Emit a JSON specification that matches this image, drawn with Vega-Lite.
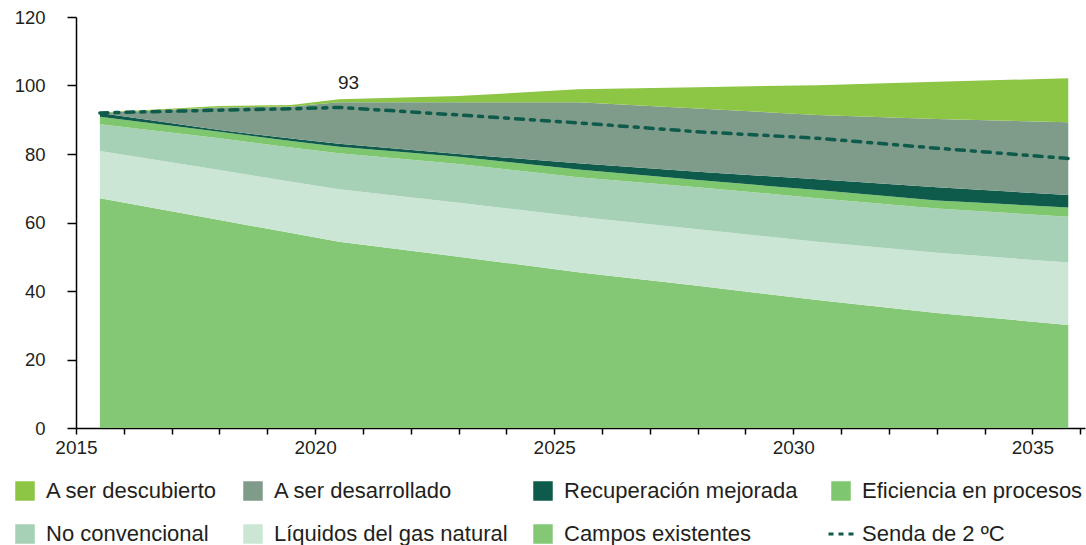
{
  "$schema": "https://vega.github.io/schema/vega-lite/v6.json",
  "autosize": {"type": "none"},
  "width": 1009,
  "height": 411,
  "padding": {"left": 76, "top": 17, "right": 1, "bottom": 117},
  "background": "white",
  "config": {
    "view": {"stroke": null},
    "font": "Liberation Sans",
    "axis": {"labelFont": "Liberation Sans", "labelColor": "#231f20", "domainColor": "#000000", "tickColor": "#000000", "domainWidth": 1.5, "tickWidth": 1.5, "grid": false, "title": null}
  },
  "datasets": {
    "areas": [
      {"anio": 2015.5, "serie": "Campos existentes", "o": 1, "valor": 67.1},
      {"anio": 2015.5, "serie": "Líquidos del gas natural", "o": 2, "valor": 13.8},
      {"anio": 2015.5, "serie": "No convencional", "o": 3, "valor": 7.8},
      {"anio": 2015.5, "serie": "Eficiencia en procesos", "o": 4, "valor": 2.2},
      {"anio": 2015.5, "serie": "Recuperación mejorada", "o": 5, "valor": 1.1},
      {"anio": 2015.5, "serie": "A ser desarrollado", "o": 6, "valor": 0.0},
      {"anio": 2015.5, "serie": "A ser descubierto", "o": 7, "valor": 0.1},
      {"anio": 2018, "serie": "Campos existentes", "o": 1, "valor": 60.7},
      {"anio": 2018, "serie": "Líquidos del gas natural", "o": 2, "valor": 14.6},
      {"anio": 2018, "serie": "No convencional", "o": 3, "valor": 9.3},
      {"anio": 2018, "serie": "Eficiencia en procesos", "o": 4, "valor": 1.9},
      {"anio": 2018, "serie": "Recuperación mejorada", "o": 5, "valor": 0.5},
      {"anio": 2018, "serie": "A ser desarrollado", "o": 6, "valor": 6.6},
      {"anio": 2018, "serie": "A ser descubierto", "o": 7, "valor": 0.4},
      {"anio": 2019.5, "serie": "Campos existentes", "o": 1, "valor": 56.9},
      {"anio": 2019.5, "serie": "Líquidos del gas natural", "o": 2, "valor": 15.0},
      {"anio": 2019.5, "serie": "No convencional", "o": 3, "valor": 10.0},
      {"anio": 2019.5, "serie": "Eficiencia en procesos", "o": 4, "valor": 1.9},
      {"anio": 2019.5, "serie": "Recuperación mejorada", "o": 5, "valor": 0.7},
      {"anio": 2019.5, "serie": "A ser desarrollado", "o": 6, "valor": 9.4},
      {"anio": 2019.5, "serie": "A ser descubierto", "o": 7, "valor": 0.4},
      {"anio": 2020.5, "serie": "Campos existentes", "o": 1, "valor": 54.4},
      {"anio": 2020.5, "serie": "Líquidos del gas natural", "o": 2, "valor": 15.3},
      {"anio": 2020.5, "serie": "No convencional", "o": 3, "valor": 10.5},
      {"anio": 2020.5, "serie": "Eficiencia en procesos", "o": 4, "valor": 1.9},
      {"anio": 2020.5, "serie": "Recuperación mejorada", "o": 5, "valor": 0.9},
      {"anio": 2020.5, "serie": "A ser desarrollado", "o": 6, "valor": 12.1},
      {"anio": 2020.5, "serie": "A ser descubierto", "o": 7, "valor": 0.9},
      {"anio": 2023, "serie": "Campos existentes", "o": 1, "valor": 50.0},
      {"anio": 2023, "serie": "Líquidos del gas natural", "o": 2, "valor": 15.8},
      {"anio": 2023, "serie": "No convencional", "o": 3, "valor": 11.3},
      {"anio": 2023, "serie": "Eficiencia en procesos", "o": 4, "valor": 2.1},
      {"anio": 2023, "serie": "Recuperación mejorada", "o": 5, "valor": 0.8},
      {"anio": 2023, "serie": "A ser desarrollado", "o": 6, "valor": 15.1},
      {"anio": 2023, "serie": "A ser descubierto", "o": 7, "valor": 1.8},
      {"anio": 2025.5, "serie": "Campos existentes", "o": 1, "valor": 45.5},
      {"anio": 2025.5, "serie": "Líquidos del gas natural", "o": 2, "valor": 16.2},
      {"anio": 2025.5, "serie": "No convencional", "o": 3, "valor": 11.5},
      {"anio": 2025.5, "serie": "Eficiencia en procesos", "o": 4, "valor": 2.3},
      {"anio": 2025.5, "serie": "Recuperación mejorada", "o": 5, "valor": 1.8},
      {"anio": 2025.5, "serie": "A ser desarrollado", "o": 6, "valor": 17.8},
      {"anio": 2025.5, "serie": "A ser descubierto", "o": 7, "valor": 3.8},
      {"anio": 2028, "serie": "Campos existentes", "o": 1, "valor": 41.5},
      {"anio": 2028, "serie": "Líquidos del gas natural", "o": 2, "valor": 16.5},
      {"anio": 2028, "serie": "No convencional", "o": 3, "valor": 12.3},
      {"anio": 2028, "serie": "Eficiencia en procesos", "o": 4, "valor": 2.1},
      {"anio": 2028, "serie": "Recuperación mejorada", "o": 5, "valor": 2.4},
      {"anio": 2028, "serie": "A ser desarrollado", "o": 6, "valor": 18.5},
      {"anio": 2028, "serie": "A ser descubierto", "o": 7, "valor": 6.2},
      {"anio": 2030.5, "serie": "Campos existentes", "o": 1, "valor": 37.4},
      {"anio": 2030.5, "serie": "Líquidos del gas natural", "o": 2, "valor": 17.0},
      {"anio": 2030.5, "serie": "No convencional", "o": 3, "valor": 12.7},
      {"anio": 2030.5, "serie": "Eficiencia en procesos", "o": 4, "valor": 2.4},
      {"anio": 2030.5, "serie": "Recuperación mejorada", "o": 5, "valor": 3.1},
      {"anio": 2030.5, "serie": "A ser desarrollado", "o": 6, "valor": 18.8},
      {"anio": 2030.5, "serie": "A ser descubierto", "o": 7, "valor": 8.7},
      {"anio": 2033, "serie": "Campos existentes", "o": 1, "valor": 33.6},
      {"anio": 2033, "serie": "Líquidos del gas natural", "o": 2, "valor": 17.6},
      {"anio": 2033, "serie": "No convencional", "o": 3, "valor": 12.9},
      {"anio": 2033, "serie": "Eficiencia en procesos", "o": 4, "valor": 2.3},
      {"anio": 2033, "serie": "Recuperación mejorada", "o": 5, "valor": 3.9},
      {"anio": 2033, "serie": "A ser desarrollado", "o": 6, "valor": 19.9},
      {"anio": 2033, "serie": "A ser descubierto", "o": 7, "valor": 10.9},
      {"anio": 2035.75, "serie": "Campos existentes", "o": 1, "valor": 30.1},
      {"anio": 2035.75, "serie": "Líquidos del gas natural", "o": 2, "valor": 18.2},
      {"anio": 2035.75, "serie": "No convencional", "o": 3, "valor": 13.4},
      {"anio": 2035.75, "serie": "Eficiencia en procesos", "o": 4, "valor": 2.7},
      {"anio": 2035.75, "serie": "Recuperación mejorada", "o": 5, "valor": 3.6},
      {"anio": 2035.75, "serie": "A ser desarrollado", "o": 6, "valor": 21.3},
      {"anio": 2035.75, "serie": "A ser descubierto", "o": 7, "valor": 12.8}
    ],
    "senda": [
      {"anio": 2015.5, "serie": "Senda de 2 ºC", "valor": 92.0},
      {"anio": 2018, "serie": "Senda de 2 ºC", "valor": 92.8},
      {"anio": 2019.5, "serie": "Senda de 2 ºC", "valor": 93.2},
      {"anio": 2020.5, "serie": "Senda de 2 ºC", "valor": 93.6},
      {"anio": 2023, "serie": "Senda de 2 ºC", "valor": 91.4},
      {"anio": 2025.5, "serie": "Senda de 2 ºC", "valor": 89.1},
      {"anio": 2028, "serie": "Senda de 2 ºC", "valor": 86.5},
      {"anio": 2030.5, "serie": "Senda de 2 ºC", "valor": 84.6},
      {"anio": 2033, "serie": "Senda de 2 ºC", "valor": 81.7},
      {"anio": 2035.75, "serie": "Senda de 2 ºC", "valor": 78.7}
    ],
    "etiqueta": [
      {"anio": 2020.7, "valor": 93.6, "texto": "93"}
    ]
  },
  "layer": [
    {
      "data": {"name": "areas"},
      "mark": {"type": "area", "interpolate": "linear", "strokeWidth": 0},
      "encoding": {
        "x": {
          "field": "anio", "type": "quantitative",
          "scale": {"domain": [2015, 2036.1], "nice": false, "zero": false},
          "axis": {
            "values": [2015, 2016, 2017, 2018, 2019, 2020, 2021, 2022, 2023, 2024, 2025, 2026, 2027, 2028, 2029, 2030, 2031, 2032, 2033, 2034, 2035, 2036],
            "format": "d",
            "labelExpr": "datum.value % 5 === 0 ? datum.label : ''",
            "labelFontSize": 19, "tickSize": 6, "labelPadding": 4, "labelOverlap": false, "labelFlush": false
          }
        },
        "y": {
          "field": "valor", "type": "quantitative", "stack": "zero",
          "scale": {"domain": [0, 120], "nice": false},
          "axis": {"values": [0, 20, 40, 60, 80, 100, 120], "labelFontSize": 18.5, "tickSize": 9, "labelPadding": 22}
        },
        "order": {"field": "o", "type": "quantitative", "sort": "ascending"},
        "color": {
          "field": "serie", "type": "nominal",
          "scale": {
            "domain": ["A ser descubierto", "A ser desarrollado", "Recuperación mejorada", "Eficiencia en procesos", "No convencional", "Líquidos del gas natural", "Campos existentes", "Senda de 2 ºC"],
            "range": ["#8dc544", "#7f9b8a", "#0e5b4c", "#7ec76f", "#a7d1b6", "#cce6d6", "#84c875", "#0e5b4c"]
          },
          "legend": {
            "orient": "none", "legendX": -62, "legendY": 463,
            "direction": "horizontal",
            "columns": 4, "title": null,
            "symbolType": "square", "symbolSize": 380, "symbolStrokeWidth": 0,
            "labelFont": "Liberation Sans", "labelFontSize": 22, "labelColor": "#231f20",
            "labelOffset": 10, "labelLimit": 400, "columnPadding": 24, "rowPadding": 21,
            "encode": {
              "symbols": {
                "update": {
                  "shape": {"signal": "datum.value === 'Senda de 2 ºC' ? 'stroke' : 'square'"},
                  "size": {"signal": "datum.value === 'Senda de 2 ºC' ? 625 : 380"},
                  "fill": {"signal": "datum.value === 'Senda de 2 ºC' ? 'transparent' : scale('color', datum.value)"},
                  "stroke": {"signal": "datum.value === 'Senda de 2 ºC' ? '#0e5b4c' : 'transparent'"},
                  "strokeWidth": {"signal": "datum.value === 'Senda de 2 ºC' ? 3 : 0"},
                  "strokeDash": {"signal": "datum.value === 'Senda de 2 ºC' ? [5, 5] : [1, 0]"},
                  "opacity": {"value": 1}
                }
              }
            }
          }
        }
      }
    },
    {
      "data": {"name": "senda"},
      "mark": {"type": "line", "strokeWidth": 3.5, "strokeDash": [8, 7, 4, 7], "strokeCap": "round", "interpolate": "linear"},
      "encoding": {
        "x": {"field": "anio", "type": "quantitative"},
        "y": {"field": "valor", "type": "quantitative", "stack": null},
        "color": {"field": "serie", "type": "nominal"}
      }
    },
    {
      "data": {"name": "etiqueta"},
      "mark": {"type": "text", "fontSize": 19, "font": "Liberation Sans", "color": "#231f20", "baseline": "middle", "align": "center", "dy": -24},
      "encoding": {
        "x": {"field": "anio", "type": "quantitative"},
        "y": {"field": "valor", "type": "quantitative"},
        "text": {"field": "texto"}
      }
    }
  ]
}
